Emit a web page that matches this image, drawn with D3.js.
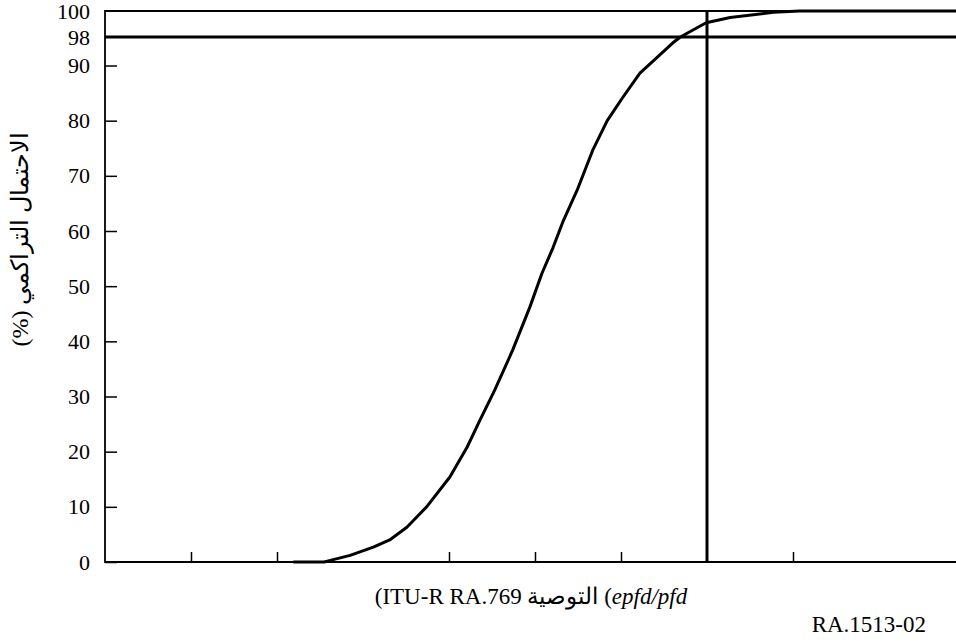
<!DOCTYPE html>
<html>
<head>
<meta charset="utf-8">
<script src="https://cdn.jsdelivr.net/npm/d3@7"></script>
<style>
  body { margin: 0; background: #fff; }
</style>
</head>
<body>
<svg id="chart" width="956" height="642"></svg>
<script>
// curve (x in tick units, y in cumulative %)
var xVals = [2.19, 2.55, 2.62, 2.85, 3.12, 3.31, 3.51, 3.74, 4.01, 4.21, 4.36, 4.53, 4.74, 4.94, 5.08, 5.21, 5.33, 5.49, 5.67, 5.84, 6.02, 6.22, 6.42, 6.60, 6.69, 6.99, 7.27, 7.77, 8.08, 9.9];
var yVals = [0, 0, 0.3, 1.2, 2.7, 4.0, 6.3, 10.0, 15.4, 20.8, 25.7, 31.1, 38.4, 46.2, 52.3, 57.0, 61.9, 67.4, 74.6, 80.0, 84.2, 88.6, 92.3, 96.3, 98.0, 99.1, 99.5, 99.9, 100, 100];

var yTicks = [0, 10, 20, 30, 40, 50, 60, 70, 80, 90, 98, 100];
var xTicks = [1, 2, 4, 5, 6, 8];
var xMarker = 7;
var yMarker = 98;

var yLabel = "الاحتمال التراكمي (%)";
var xLabelA = "(ITU-R RA.769 التوصية (";
var xLabelB = "epfd/pfd";
var figId = "RA.1513-02";

var svg = d3.select("#chart");

var mLeft = 105, mBottom = 562, mTop = 11;

var x = d3.scaleLinear().domain([0, 10]).range([mLeft, mLeft + 860]);
// the axis is stretched above 90 %
var y = d3.scaleLinear().domain([0, 90, 98, 100]).range([mBottom, 65.5, 37, mTop]);

var data = xVals.map(function(v, i) { return {x: v, y: yVals[i]}; });

// tick marks along the bottom, pointing up
var xAxis = svg.append("g")
  .attr("transform", "translate(0," + mBottom + ")")
  .call(d3.axisBottom(x).tickValues(xTicks).tickSize(-10).tickFormat(""));
xAxis.select(".domain").remove();
xAxis.selectAll("line").attr("stroke", "#000").attr("stroke-width", 1.5);

// y ticks inward + labels
var yAxis = svg.append("g")
  .attr("transform", "translate(" + mLeft + ",0)")
  .call(d3.axisLeft(y).tickValues(yTicks).tickSize(0).tickPadding(15));
yAxis.attr("font-family", "Liberation Serif").attr("font-size", 22);
yAxis.select(".domain").remove();
yAxis.selectAll("text").attr("fill", "#000");
yAxis.selectAll(".tick")
  .filter(function(d) { return d <= 90; })
  .append("line")
  .attr("x1", 0).attr("x2", 12)
  .attr("stroke", "#000").attr("stroke-width", 1.5);

// frame lines
svg.append("line").attr("x1", mLeft).attr("x2", 956).attr("y1", y(0)).attr("y2", y(0))
  .attr("stroke", "#000").attr("stroke-width", 1.8);
svg.append("line").attr("x1", mLeft).attr("x2", mLeft).attr("y1", y(0) + 1).attr("y2", y(100) - 1)
  .attr("stroke", "#000").attr("stroke-width", 1.8);
svg.append("line").attr("x1", mLeft).attr("x2", 956).attr("y1", y(100)).attr("y2", y(100))
  .attr("stroke", "#000").attr("stroke-width", 1.8);

// 98 % line and marker line
svg.append("line").attr("x1", mLeft).attr("x2", 956).attr("y1", y(yMarker)).attr("y2", y(yMarker))
  .attr("stroke", "#000").attr("stroke-width", 3);
svg.append("line").attr("x1", x(xMarker)).attr("x2", x(xMarker)).attr("y1", y(100)).attr("y2", y(0))
  .attr("stroke", "#000").attr("stroke-width", 3);

// the curve
var line = d3.line()
  .x(function(d) { return x(d.x); })
  .y(function(d) { return y(d.y); });

svg.append("path")
  .datum(data)
  .attr("d", line)
  .attr("fill", "none")
  .attr("stroke", "#000")
  .attr("stroke-width", 3)
  .attr("stroke-linejoin", "round");

// axis titles
svg.append("text")
  .attr("transform", "translate(28,239) rotate(-90)")
  .attr("text-anchor", "middle")
  .attr("direction", "rtl")
  .attr("font-family", "Liberation Serif")
  .attr("font-size", 24)
  .text(yLabel);

var xl = svg.append("text")
  .attr("x", 531).attr("y", 604)
  .attr("text-anchor", "middle")
  .attr("direction", "ltr")
  .attr("font-family", "Liberation Serif")
  .attr("font-size", 23);
xl.append("tspan").text(xLabelA);
xl.append("tspan").attr("font-style", "italic").text(xLabelB);

svg.append("text")
  .attr("x", 926).attr("y", 632)
  .attr("text-anchor", "end")
  .attr("font-family", "Liberation Serif")
  .attr("font-size", 23)
  .text(figId);
</script>
</body>
</html>
